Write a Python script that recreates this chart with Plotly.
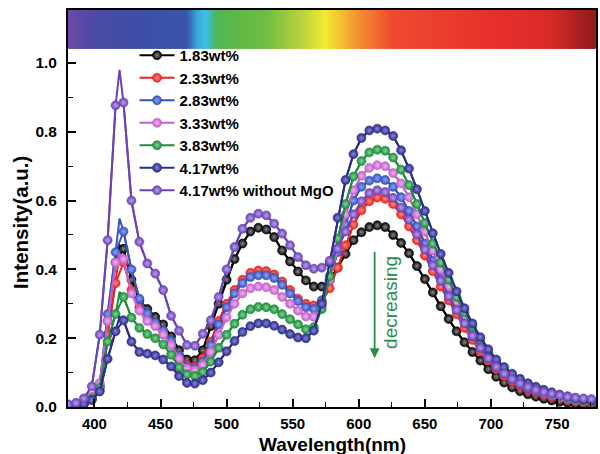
import numpy as np
import plotly.graph_objects as go

# ---------------- data ----------------
wavelength = list(range(380, 777, 6))          # marker positions (nm)
apex_nm = 419                                  # sharp blue-emission apex (line vertex only)

series_names = ["1.83wt%", "2.33wt%", "2.83wt%", "3.33wt%", "3.83wt%", "4.17wt%",
                "4.17wt% without MgO"]

i_183 = [0.004, 0.006, 0.010, 0.025, 0.060, 0.250, 0.420, 0.460, 0.370, 0.310,
         0.285, 0.262, 0.240, 0.205, 0.165, 0.138, 0.136, 0.165, 0.235, 0.300,
         0.370, 0.430, 0.475, 0.510, 0.521, 0.516, 0.494, 0.455, 0.423, 0.394,
         0.368, 0.350, 0.350, 0.368, 0.405, 0.445, 0.485, 0.508, 0.523, 0.528,
         0.523, 0.500, 0.477, 0.447, 0.410, 0.372, 0.333, 0.293, 0.256, 0.220,
         0.188, 0.160, 0.135, 0.110, 0.088, 0.071, 0.057, 0.046, 0.037, 0.030,
         0.024, 0.019, 0.015, 0.012, 0.009, 0.007, 0.006]
i_233 = [0.004, 0.006, 0.010, 0.022, 0.050, 0.210, 0.360, 0.420, 0.340, 0.290,
         0.262, 0.240, 0.220, 0.190, 0.150, 0.122, 0.118, 0.142, 0.190, 0.250,
         0.300, 0.340, 0.370, 0.390, 0.397, 0.395, 0.385, 0.365, 0.340, 0.315,
         0.300, 0.295, 0.305, 0.345, 0.405, 0.470, 0.530, 0.572, 0.598, 0.609,
         0.605, 0.590, 0.560, 0.525, 0.485, 0.440, 0.395, 0.350, 0.310, 0.270,
         0.230, 0.195, 0.162, 0.135, 0.110, 0.090, 0.074, 0.061, 0.050, 0.042,
         0.035, 0.029, 0.024, 0.020, 0.016, 0.013, 0.011]
i_283 = [0.004, 0.006, 0.011, 0.028, 0.065, 0.270, 0.450, 0.510, 0.400, 0.315,
         0.272, 0.245, 0.222, 0.192, 0.150, 0.116, 0.112, 0.132, 0.180, 0.240,
         0.290, 0.330, 0.360, 0.378, 0.383, 0.383, 0.375, 0.355, 0.330, 0.308,
         0.290, 0.285, 0.310, 0.370, 0.450, 0.530, 0.600, 0.640, 0.658, 0.665,
         0.660, 0.640, 0.610, 0.570, 0.525, 0.475, 0.425, 0.375, 0.330, 0.285,
         0.245, 0.205, 0.172, 0.142, 0.117, 0.097, 0.080, 0.066, 0.055, 0.046,
         0.039, 0.033, 0.027, 0.023, 0.019, 0.016, 0.013]
i_333 = [0.004, 0.006, 0.012, 0.030, 0.070, 0.250, 0.420, 0.430, 0.330, 0.280,
         0.250, 0.235, 0.210, 0.180, 0.140, 0.112, 0.106, 0.122, 0.160, 0.210,
         0.260, 0.300, 0.330, 0.345, 0.350, 0.348, 0.340, 0.320, 0.300, 0.280,
         0.263, 0.262, 0.295, 0.370, 0.460, 0.560, 0.630, 0.672, 0.695, 0.703,
         0.700, 0.680, 0.650, 0.610, 0.560, 0.510, 0.455, 0.400, 0.350, 0.305,
         0.260, 0.220, 0.185, 0.152, 0.125, 0.102, 0.085, 0.070, 0.058, 0.049,
         0.041, 0.035, 0.029, 0.024, 0.020, 0.017, 0.014]
i_383 = [0.004, 0.006, 0.010, 0.024, 0.055, 0.190, 0.270, 0.320, 0.260, 0.230,
         0.212, 0.200, 0.182, 0.152, 0.115, 0.095, 0.090, 0.102, 0.132, 0.172,
         0.210, 0.242, 0.268, 0.284, 0.291, 0.290, 0.284, 0.270, 0.255, 0.240,
         0.226, 0.232, 0.285, 0.380, 0.490, 0.590, 0.670, 0.715, 0.740, 0.748,
         0.745, 0.725, 0.690, 0.645, 0.590, 0.535, 0.475, 0.420, 0.370, 0.320,
         0.275, 0.235, 0.195, 0.160, 0.130, 0.108, 0.090, 0.075, 0.063, 0.053,
         0.045, 0.038, 0.032, 0.027, 0.022, 0.018, 0.015]
i_417 = [0.004, 0.006, 0.009, 0.020, 0.045, 0.140, 0.220, 0.252, 0.190, 0.160,
         0.155, 0.150, 0.138, 0.118, 0.090, 0.070, 0.068, 0.078, 0.100, 0.130,
         0.162, 0.192, 0.218, 0.235, 0.243, 0.243, 0.236, 0.225, 0.212, 0.202,
         0.200, 0.222, 0.300, 0.420, 0.550, 0.660, 0.735, 0.782, 0.804, 0.809,
         0.804, 0.788, 0.746, 0.693, 0.633, 0.570, 0.505, 0.445, 0.390, 0.336,
         0.287, 0.243, 0.203, 0.168, 0.138, 0.116, 0.097, 0.082, 0.069, 0.059,
         0.050, 0.043, 0.036, 0.031, 0.026, 0.022, 0.018]
i_417_nomgo = [0.008, 0.012, 0.025, 0.060, 0.210, 0.485, 0.877, 0.885, 0.600, 0.480,
               0.417, 0.388, 0.340, 0.265, 0.222, 0.180, 0.178, 0.213, 0.252, 0.320,
               0.400, 0.465, 0.518, 0.550, 0.562, 0.557, 0.533, 0.504, 0.470, 0.436,
               0.412, 0.402, 0.405, 0.425, 0.460, 0.510, 0.560, 0.598, 0.622, 0.630,
               0.625, 0.608, 0.580, 0.545, 0.502, 0.458, 0.412, 0.367, 0.322, 0.282,
               0.243, 0.207, 0.172, 0.142, 0.117, 0.097, 0.081, 0.068, 0.058, 0.050,
               0.044, 0.039, 0.034, 0.030, 0.027, 0.025, 0.023]
apex_values = [0.470, 0.445, 0.548, 0.445, 0.335, 0.262, 0.980]

series_values = [i_183, i_233, i_283, i_333, i_383, i_417, i_417_nomgo]

# visible-spectrum colour bar
spectrum_nm = [380, 400, 440, 470, 478, 484, 492, 505, 530, 555, 575, 585, 600, 625, 700, 745, 780]
spectrum_col = ['#6a4aa6', '#4b4aa6', '#3d4fa6', '#3a55ab', '#3aa8dc', '#3cc0e6', '#4fb55a',
                '#5bb947', '#6fbd44', '#b5d13c', '#f2ea30', '#f5c431', '#f2902f', '#ee4b2e',
                '#e8302d', '#d92a28', '#8c1b1b']

# ---------------- style ----------------
line_colors = ['#000000', '#e8231f', '#3553bd', '#c262c8', '#1e8c3a', '#2b2b8a', '#6b43b5']
glow_colors = ['#8a8a8a', '#ff8a86', '#8fa4f5', '#efb2f2', '#7fd494', '#8585d8', '#b9a0ee']
FONT = "Liberation Sans, Arial, sans-serif"

fig = go.Figure()

# spectrum bar as a heatmap above the data region
x_edges = np.linspace(380, 779.5, 401)
x_mid = (x_edges[:-1] + x_edges[1:]) / 2
cs = [[(nm - 380) / 400.0, c] for nm, c in zip(spectrum_nm, spectrum_col)]
fig.add_trace(go.Heatmap(x=x_edges, y=[1.041, 1.160], z=[list(x_mid)],
                         zmin=380, zmax=780, colorscale=cs, showscale=False,
                         hoverinfo='skip'))

wl = np.array(wavelength, dtype=float)
for name, vals, apex, lc, gc in zip(series_names, series_values, apex_values,
                                    line_colors, glow_colors):
    v = np.array(vals)
    k = int(np.searchsorted(wl, apex_nm))
    xl = np.insert(wl, k, apex_nm)
    yl = np.insert(v, k, apex)
    # line through all points (incl. the sharp apex)
    fig.add_trace(go.Scatter(x=xl, y=yl, mode='lines', line=dict(color=lc, width=2),
                             showlegend=False, hoverinfo='skip'))
    # balls
    fig.add_trace(go.Scatter(x=wl, y=v, mode='lines+markers', name=name,
                             line=dict(color=lc, width=2),
                             marker=dict(size=9, color=lc,
                                         gradient=dict(type='radial', color=gc),
                                         line=dict(color=lc, width=0.6))))

axis_common = dict(showgrid=False, zeroline=False, showline=True, linecolor='black',
                   linewidth=1.8, mirror=True, ticks='inside', tickcolor='black',
                   tickwidth=1.6, ticklen=8)

fig.update_xaxes(range=[380, 779.5], tickmode='array',
                 tickvals=[400, 450, 500, 550, 600, 650, 700, 750],
                 minor=dict(tickmode='array', tickvals=[425, 475, 525, 575, 625, 675, 725, 775],
                            ticks='inside', ticklen=5, tickwidth=1.4, tickcolor='black'),
                 ticklabelstandoff=2,
                 tickfont=dict(family=FONT, size=15, color='black', weight='bold'),
                 **axis_common)
fig.update_yaxes(range=[0, 1.154], tickmode='array',
                 tickvals=[0, 0.2, 0.4, 0.6, 0.8, 1.0],
                 ticktext=['0.0', '0.2', '0.4', '0.6', '0.8', '1.0'],
                 minor=dict(tickmode='array', tickvals=[0.1, 0.3, 0.5, 0.7, 0.9],
                            ticks='inside', ticklen=5, tickwidth=1.4, tickcolor='black'),
                 ticklabelstandoff=6,
                 tickfont=dict(family=FONT, size=15.5, color='black', weight='bold'),
                 **axis_common)

fig.add_annotation(text="Wavelength(nm)", xref='paper', yref='paper', x=0.5, y=-0.094,
                   showarrow=False, yanchor='middle',
                   font=dict(family=FONT, size=19, color='black', weight='bold'))
fig.add_annotation(text="Intensity(a.u.)", xref='paper', yref='paper', x=-0.09, y=0.465,
                   showarrow=False, textangle=-90, xanchor='center',
                   font=dict(family=FONT, size=20.5, color='black', weight='bold'))

# "decreasing" arrow + label
fig.add_annotation(x=612, y=0.142, ax=612, ay=0.455, xref='x', yref='y', axref='x', ayref='y',
                   text='', showarrow=True, arrowhead=2, arrowsize=1.1, arrowwidth=1.8,
                   arrowcolor='#2e8b45')
fig.add_annotation(text="decreasing", x=624, y=0.304, xref='x', yref='y', showarrow=False,
                   textangle=-90, font=dict(family=FONT, size=19, color='#2e8b45'))

fig.update_layout(
    width=600, height=454,
    margin=dict(l=68, r=2, t=10, b=47),
    paper_bgcolor='white', plot_bgcolor='white',
    legend=dict(x=0.126, y=0.927, xanchor='left', yanchor='top', itemwidth=35,
                bgcolor='rgba(0,0,0,0)', borderwidth=0, tracegroupgap=0,
                font=dict(family=FONT, size=15, color='black', weight='bold')),
)

fig.write_html("out.html", config={'displayModeBar': False},
               post_script="document.body.style.margin='0';document.body.style.padding='0';")
